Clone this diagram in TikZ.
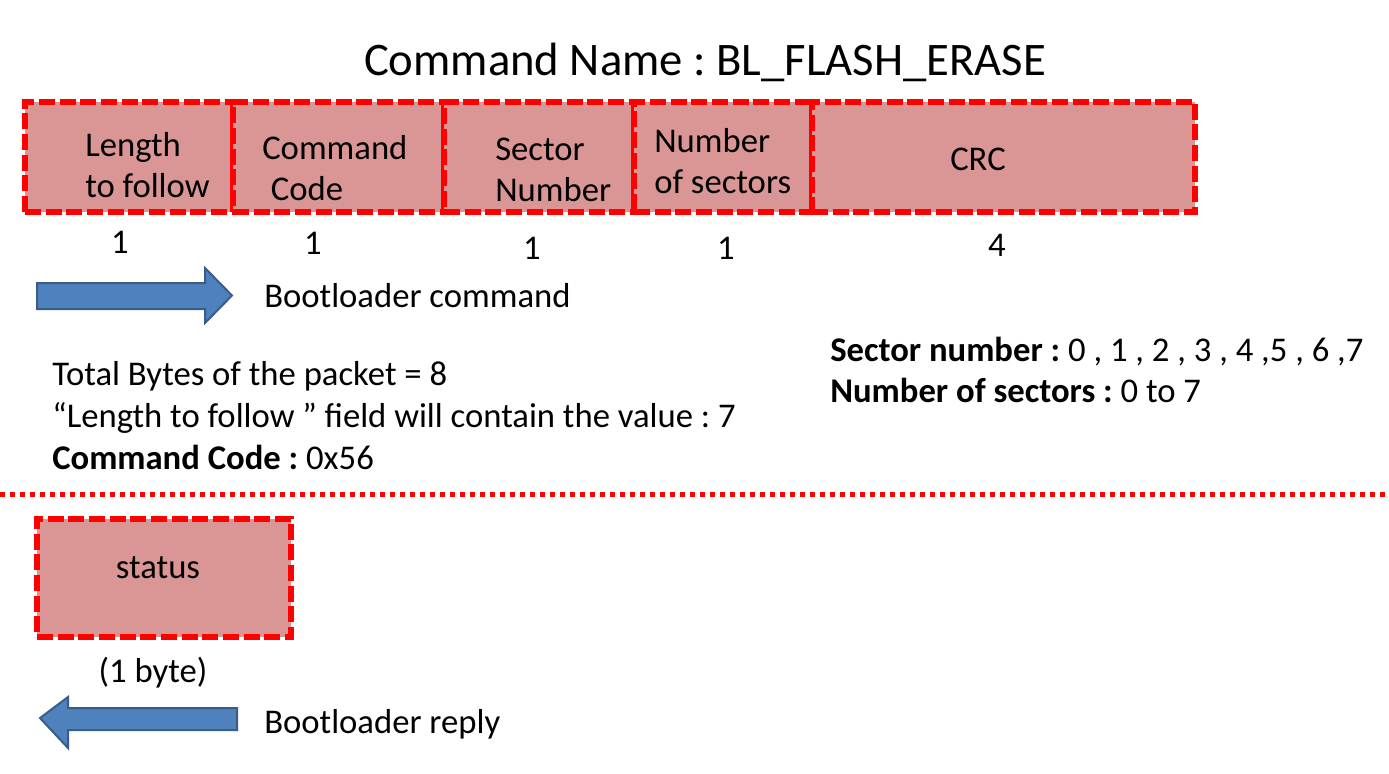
\documentclass[tikz,border=0pt]{standalone}
\usepackage{fontspec}
\setmainfont{Carlito}
\frenchspacing
\definecolor{fieldred}{RGB}{217, 150, 148}
\definecolor{arrowblue}{RGB}{79, 129, 189}
\definecolor{arrowedge}{RGB}{56, 93, 138}
\usetikzlibrary{positioning, calc}

\begin{document}
\begin{tikzpicture}[x=0.75pt, y=-0.75pt,
  field/.style={draw=red, fill=fieldred, line width=4.5pt, dash pattern=on 12pt off 3.5pt, minimum height=82.5pt, inner sep=0pt, outer sep=0pt},
  lbl/.style={font=\fontsize{26}{31}\selectfont, align=left, inner sep=0pt},
  blockarrow/.style={fill=arrowblue, draw=arrowedge, line width=1.5pt, line join=miter}]
  \useasboundingbox (0,0) rectangle (1389,774);

  \node[font=\fontsize{35}{42}\selectfont, inner sep=0pt] (title) at (705,62) {Command Name : BL\_FLASH\_ERASE};

  \node[field, minimum width=156pt] (lenbox) at (129,157) {};
  \node[field, minimum width=158.25pt, right=0pt of lenbox] (codebox) {};
  \node[field, minimum width=142.5pt, right=0pt of codebox] (secbox) {};
  \node[field, minimum width=133.5pt, right=0pt of secbox] (numbox) {};
  \node[field, minimum width=287.25pt, right=0pt of numbox] (crcbox) {};

  \node[lbl, anchor=west] (lentext) at (85,165) {Length\\to follow};
  \node[lbl, anchor=west] (codetext) at (262,168) {Command\\\hspace{0.25em}Code};
  \node[lbl, anchor=west] (sectext) at (495,170) {Sector\\Number};
  \node[lbl, anchor=west] (numtext) at (654,161) {Number\\of sectors};
  \node[lbl] (crctext) at (978,159) {CRC};

  \node[lbl] (lensize) at (120,242) {1};
  \node[lbl] (codesize) at (313,243) {1};
  \node[lbl] (secsize) at (532,248) {1};
  \node[lbl] (numsize) at (726,248) {1};
  \node[lbl] (crcsize) at (997,245) {4};

  \draw[blockarrow] (37,283) -- (205,283) -- (205,268) -- (232,295.5) -- (205,323) -- (205,309) -- (37,309) -- cycle;
  \node[lbl, anchor=west] (cmdtext) at (264,296) {Bootloader command};

  \node[lbl, anchor=west, font=\fontsize{26}{31.5}\selectfont] (packetinfo) at (52,416) {Total Bytes of the packet = 8\\“Length to follow ” field will contain the value : 7\\\textbf{Command Code :} 0x56};
  \node[lbl, anchor=west] (sectorinfo) at (830,370) {\textbf{Sector number :} 0 , 1 , 2 , 3 , 4 ,5 , 6 ,7\\\textbf{Number of sectors :} 0 to 7};

  \draw[red, line width=3.75pt, dash pattern=on 3.75pt off 3.75pt] (0,494) -- (1389,494);

  \node[field, minimum width=190.5pt, minimum height=88.5pt] (statusbox) at (164,578) {};
  \node[lbl] (statustext) at (158,568) {status};
  \node[lbl] (statussize) at (153,673) {(1 byte)};

  \draw[blockarrow] (40,718) -- (68,697) -- (68,708) -- (237,708) -- (237,730) -- (68,730) -- (68,748) -- cycle;
  \node[lbl, anchor=west] (replytext) at (264,724) {Bootloader reply};
\end{tikzpicture}
\end{document}
